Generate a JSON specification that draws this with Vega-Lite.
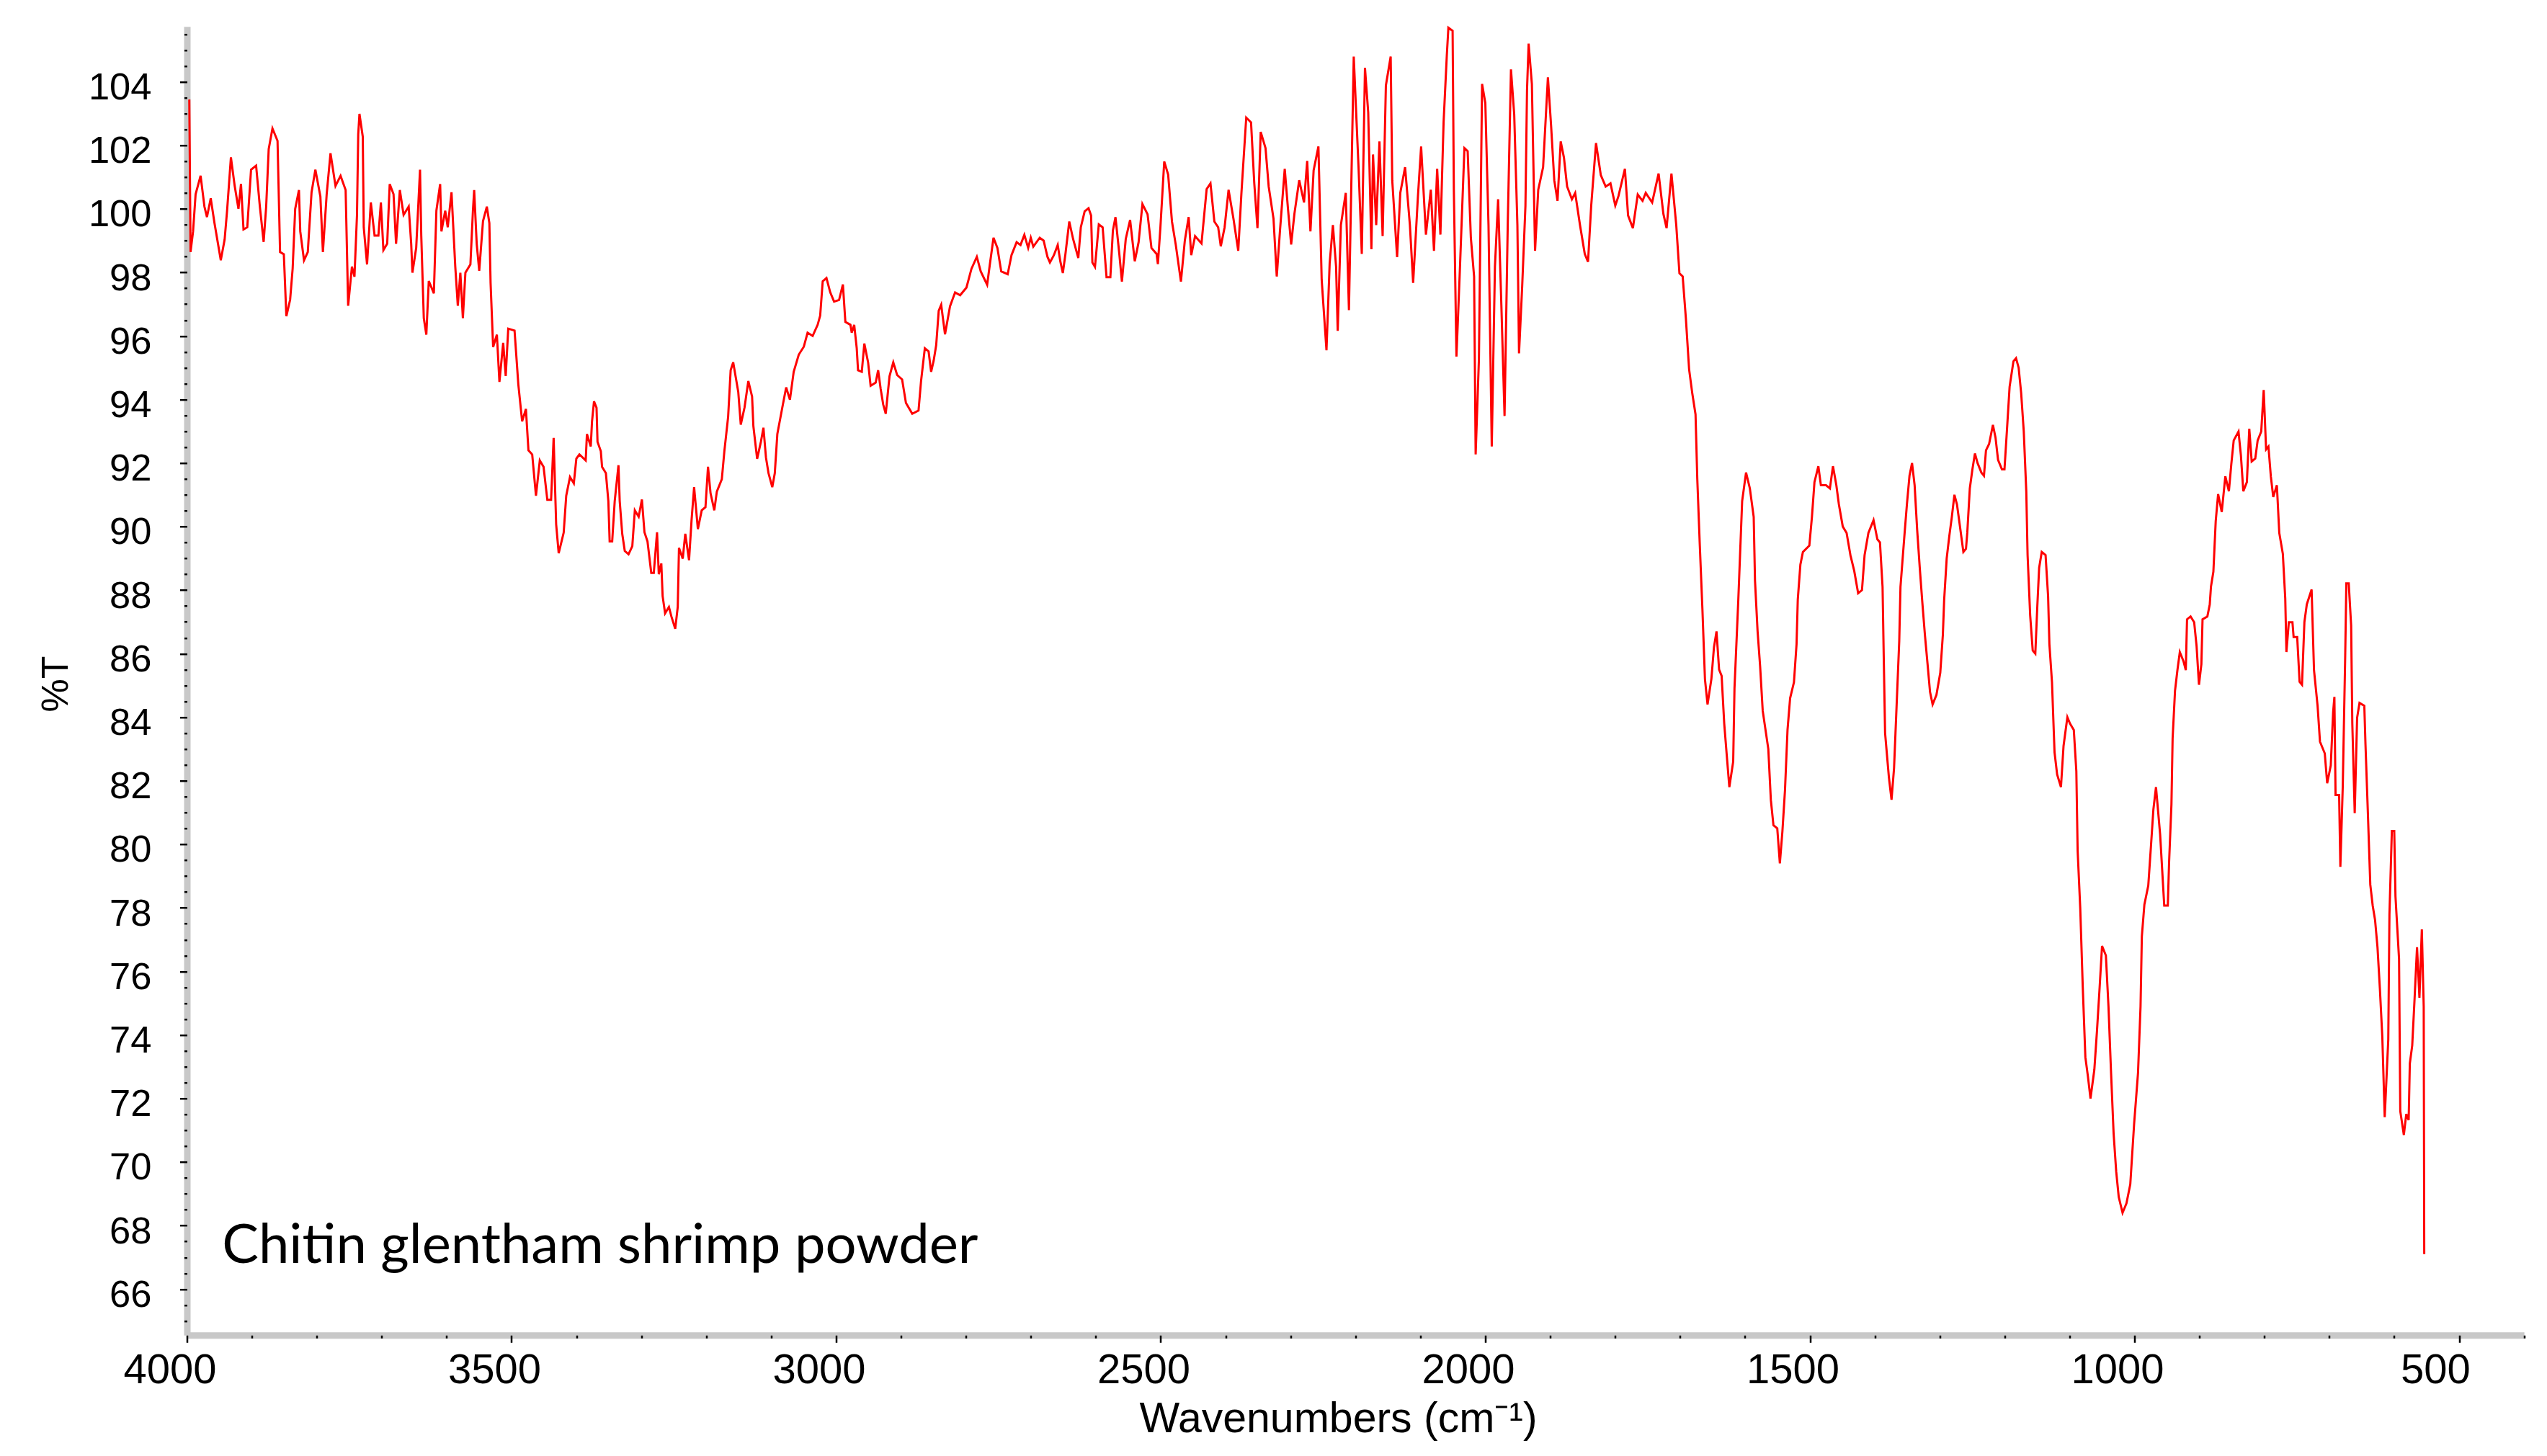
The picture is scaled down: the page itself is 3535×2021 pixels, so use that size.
{
  "$schema": "https://vega.github.io/schema/vega-lite/v6.json",
  "autosize": {"type": "none"},
  "padding": {"left": 259.5, "top": 36.7, "right": 31.9, "bottom": 167.7},
  "width": 3243.6,
  "height": 1816.6,
  "background": "white",
  "config": {"view": {"stroke": null}},
  "datasets": {
    "spectrum": [
      {"wn":3996.4,"T":103.44},{"wn":3994.5,"T":98.64},{"wn":3990.6,"T":99.29},{"wn":3986.7,"T":100.46},{"wn":3979.0,"T":101.04},{"wn":3973.1,"T":100.07},{"wn":3969.2,"T":99.74},{"wn":3963.4,"T":100.33},{"wn":3957.6,"T":99.55},{"wn":3947.9,"T":98.38},{"wn":3942.0,"T":99.03},{"wn":3938.2,"T":99.94},{"wn":3932.3,"T":101.62},{"wn":3926.5,"T":100.72},{"wn":3920.7,"T":100.00},{"wn":3916.8,"T":100.78},{"wn":3912.9,"T":99.35},{"wn":3907.1,"T":99.42},{"wn":3901.3,"T":101.23},{"wn":3893.5,"T":101.36},{"wn":3887.7,"T":100.07},{"wn":3881.9,"T":98.96},{"wn":3878.0,"T":100.07},{"wn":3874.1,"T":101.88},{"wn":3868.3,"T":102.53},{"wn":3860.5,"T":102.14},{"wn":3856.6,"T":98.64},{"wn":3850.8,"T":98.57},{"wn":3846.9,"T":96.62},{"wn":3841.1,"T":97.14},{"wn":3837.2,"T":98.12},{"wn":3833.3,"T":100.00},{"wn":3827.5,"T":100.59},{"wn":3825.5,"T":99.29},{"wn":3819.7,"T":98.38},{"wn":3813.9,"T":98.64},{"wn":3808.1,"T":100.52},{"wn":3802.2,"T":101.23},{"wn":3794.5,"T":100.39},{"wn":3790.6,"T":98.64},{"wn":3784.8,"T":100.46},{"wn":3778.9,"T":101.75},{"wn":3771.2,"T":100.72},{"wn":3763.4,"T":101.04},{"wn":3755.6,"T":100.59},{"wn":3751.7,"T":96.95},{"wn":3745.9,"T":98.18},{"wn":3742.0,"T":97.86},{"wn":3738.1,"T":99.81},{"wn":3736.2,"T":102.34},{"wn":3734.3,"T":102.99},{"wn":3729.2,"T":102.27},{"wn":3727.7,"T":99.42},{"wn":3722.6,"T":98.25},{"wn":3716.8,"T":100.20},{"wn":3711.0,"T":99.16},{"wn":3705.1,"T":99.16},{"wn":3701.3,"T":100.20},{"wn":3697.4,"T":98.70},{"wn":3691.6,"T":98.90},{"wn":3687.7,"T":100.78},{"wn":3681.8,"T":100.46},{"wn":3677.9,"T":98.90},{"wn":3672.1,"T":100.59},{"wn":3666.3,"T":99.81},{"wn":3658.5,"T":100.07},{"wn":3654.6,"T":98.90},{"wn":3652.7,"T":97.99},{"wn":3646.9,"T":98.77},{"wn":3641.0,"T":101.23},{"wn":3639.1,"T":99.16},{"wn":3635.2,"T":96.56},{"wn":3631.3,"T":96.04},{"wn":3627.5,"T":97.73},{"wn":3619.7,"T":97.34},{"wn":3615.8,"T":99.94},{"wn":3610.0,"T":100.78},{"wn":3608.0,"T":99.29},{"wn":3602.2,"T":99.94},{"wn":3598.3,"T":99.42},{"wn":3592.5,"T":100.52},{"wn":3586.7,"T":98.18},{"wn":3582.8,"T":96.95},{"wn":3578.9,"T":97.99},{"wn":3575.0,"T":96.56},{"wn":3571.1,"T":97.99},{"wn":3563.4,"T":98.25},{"wn":3559.5,"T":99.94},{"wn":3557.6,"T":100.59},{"wn":3553.7,"T":98.90},{"wn":3549.8,"T":98.05},{"wn":3544.0,"T":99.61},{"wn":3538.1,"T":100.07},{"wn":3534.2,"T":99.55},{"wn":3532.3,"T":97.66},{"wn":3528.4,"T":95.65},{"wn":3522.6,"T":96.04},{"wn":3518.7,"T":94.55},{"wn":3512.9,"T":95.78},{"wn":3509.0,"T":94.74},{"wn":3505.1,"T":96.23},{"wn":3495.4,"T":96.17},{"wn":3489.6,"T":94.48},{"wn":3483.7,"T":93.31},{"wn":3477.9,"T":93.70},{"wn":3474.0,"T":92.40},{"wn":3468.2,"T":92.27},{"wn":3462.4,"T":90.97},{"wn":3456.5,"T":92.08},{"wn":3450.7,"T":91.88},{"wn":3444.9,"T":90.84},{"wn":3439.1,"T":90.84},{"wn":3435.2,"T":92.79},{"wn":3431.3,"T":90.07},{"wn":3427.4,"T":89.16},{"wn":3419.7,"T":89.81},{"wn":3415.8,"T":90.97},{"wn":3410.0,"T":91.56},{"wn":3404.1,"T":91.36},{"wn":3400.2,"T":92.14},
      {"wn":3395.5,"T":92.27},{"wn":3385.8,"T":92.08},{"wn":3383.9,"T":92.91},{"wn":3378.0,"T":92.52},{"wn":3376.1,"T":93.30},{"wn":3373.0,"T":93.94},{"wn":3369.1,"T":93.74},{"wn":3367.6,"T":92.67},{"wn":3362.5,"T":92.37},{"wn":3360.6,"T":91.88},{"wn":3354.7,"T":91.68},{"wn":3350.9,"T":90.80},{"wn":3348.9,"T":89.53},{"wn":3345.0,"T":89.53},{"wn":3341.1,"T":90.80},{"wn":3335.3,"T":91.93},{"wn":3333.4,"T":90.80},{"wn":3329.5,"T":89.77},{"wn":3325.6,"T":89.23},{"wn":3319.8,"T":89.13},{"wn":3314.0,"T":89.38},{"wn":3310.1,"T":90.51},{"wn":3304.2,"T":90.31},{"wn":3299.2,"T":90.85},{"wn":3295.3,"T":89.82},{"wn":3290.6,"T":89.53},{"wn":3284.8,"T":88.54},{"wn":3280.9,"T":88.54},{"wn":3275.9,"T":89.82},{"wn":3273.2,"T":88.50},{"wn":3269.3,"T":88.84},{"wn":3267.3,"T":87.81},{"wn":3263.5,"T":87.27},{"wn":3257.6,"T":87.47},{"wn":3253.8,"T":87.17},{"wn":3247.9,"T":86.78},{"wn":3244.0,"T":87.47},{"wn":3242.1,"T":89.33},{"wn":3236.3,"T":88.99},{"wn":3232.4,"T":89.77},{"wn":3226.6,"T":88.94},{"wn":3222.7,"T":90.21},{"wn":3218.8,"T":91.24},{"wn":3213.0,"T":89.92},{"wn":3207.1,"T":90.51},{"wn":3201.3,"T":90.61},{"wn":3197.4,"T":91.88},{"wn":3193.5,"T":91.05},{"wn":3187.7,"T":90.51},{"wn":3183.8,"T":91.10},{"wn":3176.1,"T":91.49},{"wn":3172.2,"T":92.37},{"wn":3166.4,"T":93.45},{"wn":3162.5,"T":94.92},{"wn":3158.6,"T":95.17},{"wn":3150.8,"T":94.24},{"wn":3146.9,"T":93.21},{"wn":3141.1,"T":93.75},{"wn":3135.3,"T":94.58},{"wn":3129.5,"T":94.09},{"wn":3127.5,"T":93.16},{"wn":3121.7,"T":92.13},{"wn":3115.9,"T":92.67},{"wn":3112.0,"T":93.11},{"wn":3108.1,"T":92.17},{"wn":3104.2,"T":91.68},{"wn":3098.4,"T":91.24},{"wn":3094.5,"T":91.68},{"wn":3090.6,"T":92.91},{"wn":3082.9,"T":93.75},{"wn":3077.0,"T":94.38},{"wn":3071.2,"T":93.99},{"wn":3065.4,"T":94.87},{"wn":3057.6,"T":95.41},{"wn":3049.8,"T":95.66},{"wn":3044.0,"T":96.10},{"wn":3036.2,"T":96.00},{"wn":3028.5,"T":96.35},{"wn":3024.6,"T":96.64},{"wn":3020.7,"T":97.72},{"wn":3014.9,"T":97.82},{"wn":3009.1,"T":97.37},{"wn":3003.2,"T":97.08},{"wn":2995.5,"T":97.13},{"wn":2989.6,"T":97.62},{"wn":2985.8,"T":96.44},{"wn":2978.0,"T":96.35},{"wn":2976.0,"T":96.10},{"wn":2972.2,"T":96.35},{"wn":2968.3,"T":95.61},{"wn":2966.3,"T":94.92},{"wn":2960.5,"T":94.87},{"wn":2956.6,"T":95.76},{"wn":2950.8,"T":95.17},{"wn":2946.9,"T":94.43},{"wn":2939.1,"T":94.53},{"wn":2935.3,"T":94.92},{"wn":2931.4,"T":94.33},{"wn":2927.5,"T":93.84},{"wn":2923.6,"T":93.55},{"wn":2917.8,"T":94.73},{"wn":2912.0,"T":95.17},{"wn":2906.1,"T":94.77},{"wn":2898.4,"T":94.63},{"wn":2892.5,"T":93.89},{"wn":2882.8,"T":93.55},{"wn":2873.1,"T":93.65},{"wn":2869.2,"T":94.58},{"wn":2863.4,"T":95.61},{"wn":2857.6,"T":95.51},{"wn":2853.7,"T":94.87},{"wn":2849.8,"T":95.22},{"wn":2845.9,"T":95.71},{"wn":2842.0,"T":96.79},{"wn":2838.2,"T":96.98},{"wn":2832.3,"T":96.05},{"wn":2824.6,"T":96.93},{"wn":2816.8,"T":97.37},{"wn":2809.0,"T":97.28},{"wn":2799.3,"T":97.52},{"wn":2791.6,"T":98.11},
      {"wn":2783.3,"T":98.49},{"wn":2777.3,"T":98.03},{"wn":2767.4,"T":97.61},{"wn":2763.5,"T":98.21},{"wn":2757.6,"T":99.09},{"wn":2751.6,"T":98.77},{"wn":2745.7,"T":98.03},{"wn":2735.8,"T":97.94},{"wn":2729.9,"T":98.54},{"wn":2722.0,"T":98.95},{"wn":2716.0,"T":98.86},{"wn":2710.1,"T":99.18},{"wn":2704.2,"T":98.77},{"wn":2700.2,"T":99.09},{"wn":2696.3,"T":98.81},{"wn":2686.4,"T":99.09},{"wn":2680.4,"T":99.00},{"wn":2674.5,"T":98.49},{"wn":2670.7,"T":98.31},{"wn":2664.6,"T":98.54},{"wn":2658.7,"T":98.86},{"wn":2654.7,"T":98.35},{"wn":2650.8,"T":97.98},{"wn":2646.8,"T":98.58},{"wn":2640.9,"T":99.60},{"wn":2635.0,"T":99.05},{"wn":2627.0,"T":98.45},{"wn":2623.1,"T":99.42},{"wn":2617.2,"T":99.92},{"wn":2611.2,"T":100.02},{"wn":2607.3,"T":99.79},{"wn":2605.3,"T":98.31},{"wn":2601.3,"T":98.17},{"wn":2595.4,"T":99.51},{"wn":2589.5,"T":99.42},{"wn":2583.5,"T":97.85},{"wn":2577.6,"T":97.85},{"wn":2573.7,"T":99.32},{"wn":2569.7,"T":99.74},{"wn":2563.8,"T":98.58},{"wn":2559.8,"T":97.71},{"wn":2553.9,"T":99.05},{"wn":2547.2,"T":99.65},{"wn":2540.0,"T":98.35},{"wn":2534.1,"T":98.95},{"wn":2528.2,"T":100.15},{"wn":2520.3,"T":99.83},{"wn":2514.3,"T":98.77},{"wn":2506.4,"T":98.58},{"wn":2504.4,"T":98.26},{"wn":2500.5,"T":99.42},{"wn":2494.6,"T":101.49},{"wn":2488.6,"T":101.08},{"wn":2482.7,"T":99.60},{"wn":2476.8,"T":98.86},{"wn":2468.9,"T":97.71},{"wn":2462.9,"T":99.00},{"wn":2457.0,"T":99.74},{"wn":2453.0,"T":98.54},{"wn":2447.1,"T":99.14},{"wn":2437.2,"T":98.91},{"wn":2429.3,"T":100.62},{"wn":2423.4,"T":100.80},{"wn":2417.4,"T":99.60},{"wn":2411.5,"T":99.42},{"wn":2407.5,"T":98.82},{"wn":2401.6,"T":99.42},
      {"wn":2395.5,"T":100.60},{"wn":2388.0,"T":99.69},{"wn":2380.6,"T":98.68},{"wn":2375.7,"T":100.50},{"wn":2368.3,"T":102.87},{"wn":2360.9,"T":102.72},{"wn":2355.9,"T":100.80},{"wn":2351.0,"T":99.39},{"wn":2346.0,"T":102.42},{"wn":2338.6,"T":101.91},{"wn":2333.7,"T":100.70},{"wn":2326.3,"T":99.69},{"wn":2321.3,"T":97.87},{"wn":2316.4,"T":99.29},{"wn":2309.0,"T":101.26},{"wn":2304.0,"T":100.00},{"wn":2299.1,"T":98.88},{"wn":2294.1,"T":99.84},{"wn":2286.7,"T":100.90},{"wn":2279.3,"T":100.20},{"wn":2274.4,"T":101.51},{"wn":2269.4,"T":99.29},{"wn":2264.5,"T":101.21},{"wn":2257.1,"T":101.96},{"wn":2252.1,"T":97.77},{"wn":2244.7,"T":95.55},{"wn":2239.8,"T":98.28},{"wn":2234.8,"T":99.49},{"wn":2229.9,"T":98.18},{"wn":2227.4,"T":96.16},{"wn":2222.5,"T":99.49},{"wn":2215.0,"T":100.50},{"wn":2210.1,"T":96.81},{"wn":2202.7,"T":104.79},{"wn":2195.3,"T":101.31},{"wn":2190.3,"T":98.58},{"wn":2185.4,"T":104.44},{"wn":2180.4,"T":103.03},{"wn":2175.5,"T":98.73},{"wn":2173.0,"T":101.71},{"wn":2168.1,"T":99.49},{"wn":2163.1,"T":102.12},{"wn":2158.2,"T":99.14},{"wn":2153.2,"T":103.88},{"wn":2145.8,"T":104.79},{"wn":2143.4,"T":100.90},{"wn":2135.9,"T":98.48},{"wn":2131.0,"T":100.50},{"wn":2123.6,"T":101.31},{"wn":2116.2,"T":99.49},{"wn":2111.2,"T":97.67},{"wn":2103.8,"T":100.40},{"wn":2098.9,"T":101.96},{"wn":2091.5,"T":99.19},{"wn":2084.0,"T":100.60},{"wn":2079.1,"T":98.68},{"wn":2074.2,"T":101.26},{"wn":2069.2,"T":99.19},{"wn":2064.3,"T":102.72},{"wn":2059.3,"T":104.84},{"wn":2056.9,"T":105.70},{"wn":2050.4,"T":105.60},{"wn":2048.5,"T":100.60},{"wn":2044.5,"T":95.35},{"wn":2039.6,"T":97.87},{"wn":2032.2,"T":101.91},{"wn":2027.2,"T":101.81},{"wn":2022.3,"T":99.09},{"wn":2017.3,"T":97.87},{"wn":2014.9,"T":92.27},{"wn":2009.9,"T":95.25},{"wn":2005.0,"T":103.93},{"wn":2000.0,"T":103.33},{"wn":1995.1,"T":99.49},{"wn":1990.1,"T":92.52},{"wn":1985.2,"T":98.18},{"wn":1980.3,"T":100.30},{"wn":1975.3,"T":96.97},{"wn":1970.4,"T":93.48},{"wn":1965.4,"T":99.59},{"wn":1960.5,"T":104.39},{"wn":1955.5,"T":102.97},{"wn":1950.6,"T":99.49},{"wn":1948.1,"T":95.45},{"wn":1943.2,"T":97.57},{"wn":1938.2,"T":100.10},{"wn":1935.8,"T":103.73},{"wn":1933.3,"T":105.20},{"wn":1928.3,"T":103.93},{"wn":1923.4,"T":98.68},{"wn":1918.5,"T":100.60},{"wn":1911.0,"T":101.31},{"wn":1903.6,"T":104.14},{"wn":1898.7,"T":102.62},{"wn":1893.8,"T":100.90},{"wn":1888.8,"T":100.25},{"wn":1883.9,"T":102.12},{"wn":1878.9,"T":101.61},{"wn":1874.0,"T":100.70},{"wn":1866.6,"T":100.30},{"wn":1861.6,"T":100.50},{"wn":1854.2,"T":99.49},{"wn":1846.8,"T":98.58},{"wn":1841.8,"T":98.33},{"wn":1836.9,"T":100.10},{"wn":1829.5,"T":102.07},{"wn":1822.1,"T":101.06},{"wn":1814.6,"T":100.70},{"wn":1807.2,"T":100.80},{"wn":1799.8,"T":100.10},{"wn":1794.9,"T":100.40},{"wn":1785.0,"T":101.26},{"wn":1780.1,"T":99.79},{"wn":1772.7,"T":99.39},{"wn":1765.2,"T":100.45},{"wn":1757.8,"T":100.25},{"wn":1752.9,"T":100.50},{"wn":1743.0,"T":100.20},{"wn":1733.1,"T":101.11},{"wn":1725.7,"T":99.84},{"wn":1720.8,"T":99.39},{"wn":1713.3,"T":101.11},{"wn":1705.9,"T":99.49},{"wn":1701.0,"T":97.97},{"wn":1696.0,"T":97.87},{"wn":1691.1,"T":96.56},{"wn":1686.1,"T":94.95},{"wn":1681.2,"T":94.19},{"wn":1676.2,"T":93.53},
      {"wn":1673.5,"T":91.5},{"wn":1669.6,"T":89.4},{"wn":1665.6,"T":87.4},{"wn":1661.7,"T":85.2},{"wn":1657.7,"T":84.4},{"wn":1651.8,"T":85.2},{"wn":1647.8,"T":86.2},{"wn":1643.9,"T":86.7},{"wn":1639.9,"T":85.5},{"wn":1636.0,"T":85.3},{"wn":1632.0,"T":83.8},{"wn":1628.1,"T":82.8},{"wn":1624.1,"T":81.8},{"wn":1618.2,"T":82.6},{"wn":1616.2,"T":84.9},{"wn":1610.3,"T":87.7},{"wn":1606.3,"T":89.8},{"wn":1604.4,"T":90.8},{"wn":1598.4,"T":91.7},{"wn":1592.5,"T":91.2},{"wn":1586.6,"T":90.3},{"wn":1584.6,"T":88.3},{"wn":1580.6,"T":86.7},{"wn":1576.7,"T":85.6},{"wn":1572.7,"T":84.2},
      {"wn":1564.1,"T":83.0},{"wn":1560.2,"T":81.4},{"wn":1556.2,"T":80.6},{"wn":1550.3,"T":80.5},{"wn":1546.3,"T":79.4},{"wn":1542.4,"T":80.4},{"wn":1538.4,"T":81.7},{"wn":1534.5,"T":83.6},{"wn":1530.5,"T":84.6},{"wn":1524.6,"T":85.1},{"wn":1520.6,"T":86.3},{"wn":1518.7,"T":87.7},{"wn":1514.7,"T":88.8},{"wn":1510.8,"T":89.2},{"wn":1500.9,"T":89.4},{"wn":1496.9,"T":90.3},{"wn":1493.0,"T":91.4},{"wn":1487.0,"T":91.9},{"wn":1483.1,"T":91.3},{"wn":1475.2,"T":91.3},{"wn":1469.2,"T":91.2},{"wn":1464.5,"T":91.9},{"wn":1459.3,"T":91.3},{"wn":1455.4,"T":90.7},{"wn":1449.4,"T":90.0},{"wn":1443.5,"T":89.8},{"wn":1437.6,"T":89.1},{"wn":1431.7,"T":88.6},{"wn":1425.7,"T":87.9},{"wn":1419.8,"T":88.0},{"wn":1415.8,"T":89.1},{"wn":1409.9,"T":89.8},{"wn":1402.0,"T":90.2},{"wn":1396.1,"T":89.6},{"wn":1392.1,"T":89.5},{"wn":1388.1,"T":88.1},{"wn":1386.2,"T":85.8},{"wn":1384.2,"T":83.5},{"wn":1378.3,"T":82.1},{"wn":1374.3,"T":81.4},{"wn":1370.4,"T":82.4},{"wn":1366.4,"T":84.4},{"wn":1362.4,"T":86.4},{"wn":1360.5,"T":88.1},{"wn":1354.5,"T":89.7},{"wn":1350.6,"T":90.7},{"wn":1346.6,"T":91.6},{"wn":1342.7,"T":92.0},{"wn":1338.7,"T":91.3},{"wn":1334.8,"T":89.9},{"wn":1330.8,"T":88.7},{"wn":1326.8,"T":87.6},{"wn":1322.9,"T":86.6},{"wn":1318.9,"T":85.7},{"wn":1315.0,"T":84.8},{"wn":1311.0,"T":84.4},{"wn":1305.1,"T":84.7},{"wn":1299.2,"T":85.4},{"wn":1295.2,"T":86.6},{"wn":1293.2,"T":87.7},{"wn":1289.3,"T":89.0},{"wn":1285.3,"T":89.7},{"wn":1281.4,"T":90.3},{"wn":1277.4,"T":91.0},{"wn":1273.5,"T":90.7},{"wn":1269.5,"T":90.1},{"wn":1263.6,"T":89.2},{"wn":1259.6,"T":89.3},{"wn":1257.6,"T":89.8},{"wn":1253.7,"T":91.2},{"wn":1249.7,"T":91.8},{"wn":1245.8,"T":92.3},{"wn":1241.8,"T":92.0},{"wn":1235.9,"T":91.7},{"wn":1231.9,"T":91.6},{"wn":1228.8,"T":92.4},{"wn":1224.0,"T":92.6},{"wn":1218.1,"T":93.2},{"wn":1214.1,"T":92.8},{"wn":1210.2,"T":92.1},{"wn":1204.2,"T":91.8},{"wn":1200.3,"T":91.8},{"wn":1196.3,"T":93.1},{"wn":1192.4,"T":94.4},{"wn":1186.5,"T":95.2},{"wn":1182.5,"T":95.3},{"wn":1178.5,"T":95.0},{"wn":1174.6,"T":94.2},{"wn":1170.6,"T":93.0},{"wn":1166.7,"T":91.1},{"wn":1164.7,"T":89.1},{"wn":1160.7,"T":87.2},{"wn":1156.8,"T":86.1},{"wn":1152.8,"T":86.0},{"wn":1149.7,"T":87.5},{"wn":1146.9,"T":88.7},{"wn":1142.9,"T":89.2},{"wn":1137.0,"T":89.1},{"wn":1133.1,"T":87.8},{"wn":1131.1,"T":86.3},{"wn":1127.1,"T":85.1},{"wn":1123.2,"T":82.9},{"wn":1119.2,"T":82.2},{"wn":1113.3,"T":81.8},{"wn":1109.3,"T":83.1},{"wn":1103.4,"T":84.0},{"wn":1099.4,"T":83.8},{"wn":1093.5,"T":83.6},{"wn":1089.6,"T":82.3},{"wn":1087.6,"T":79.8},{"wn":1083.6,"T":78.0},{"wn":1079.7,"T":75.5},{"wn":1075.7,"T":73.3},{"wn":1071.8,"T":72.7},{"wn":1067.8,"T":72.0},{"wn":1061.9,"T":72.9},{"wn":1057.9,"T":74.1},{"wn":1054.0,"T":75.4},{"wn":1050.0,"T":76.8},{"wn":1044.1,"T":76.5},{"wn":1040.1,"T":74.9},{"wn":1036.1,"T":72.8},{"wn":1032.2,"T":70.9},{"wn":1028.2,"T":69.7},{"wn":1024.3,"T":68.9},{"wn":1018.4,"T":68.4},{"wn":1012.4,"T":68.7},{"wn":1006.5,"T":69.3},{"wn":1000.6,"T":71.2},{"wn":994.6,"T":72.8},{"wn":990.7,"T":74.9},{"wn":988.7,"T":77.1},{"wn":984.8,"T":78.1},{"wn":978.8,"T":78.7},{"wn":974.8,"T":79.9},{"wn":970.9,"T":81.1},{"wn":966.9,"T":81.8},{"wn":960.5,"T":80.3},
      {"wn":954.2,"T":78.07},{"wn":948.7,"T":78.07},{"wn":946.8,"T":79.39},{"wn":943.1,"T":81.26},{"wn":941.3,"T":83.33},{"wn":937.6,"T":84.83},{"wn":933.9,"T":85.48},{"wn":930.2,"T":86.05},{"wn":924.7,"T":85.77},{"wn":921.0,"T":85.48},{"wn":919.1,"T":87.08},{"wn":913.6,"T":87.17},{"wn":908.1,"T":86.99},{"wn":904.4,"T":86.24},{"wn":900.7,"T":85.02},{"wn":897.0,"T":85.67},{"wn":895.2,"T":87.08},{"wn":887.8,"T":87.17},{"wn":884.1,"T":87.55},{"wn":882.2,"T":88.11},{"wn":878.5,"T":88.58},{"wn":874.9,"T":90.17},{"wn":871.2,"T":91.02},{"wn":865.6,"T":90.46},{"wn":860.1,"T":91.58},{"wn":854.6,"T":91.11},{"wn":850.9,"T":91.96},{"wn":847.2,"T":92.71},{"wn":839.8,"T":92.99},{"wn":836.1,"T":92.24},{"wn":832.4,"T":91.11},{"wn":826.9,"T":91.40},{"wn":823.2,"T":93.08},{"wn":819.5,"T":92.05},{"wn":814.0,"T":92.14},{"wn":810.3,"T":92.71},{"wn":804.8,"T":92.99},{"wn":801.0,"T":94.30},{"wn":797.3,"T":92.43},{"wn":793.7,"T":92.52},{"wn":790.0,"T":91.58},{"wn":786.3,"T":90.93},{"wn":780.7,"T":91.30},{"wn":777.0,"T":89.80},{"wn":771.5,"T":89.14},{"wn":767.8,"T":87.74},{"wn":766.0,"T":86.05},{"wn":762.3,"T":86.99},{"wn":756.7,"T":86.99},{"wn":754.9,"T":86.52},{"wn":749.4,"T":86.52},{"wn":745.7,"T":85.11},{"wn":742.0,"T":85.02},{"wn":738.3,"T":86.99},{"wn":734.6,"T":87.55},{"wn":727.2,"T":88.02},{"wn":723.5,"T":85.48},{"wn":718.0,"T":84.36},{"wn":714.3,"T":83.23},{"wn":706.9,"T":82.86},{"wn":703.2,"T":81.92},{"wn":697.7,"T":82.48},{"wn":694.0,"T":84.17},{"wn":692.1,"T":84.64},{"wn":690.3,"T":81.55},{"wn":684.8,"T":81.55},{"wn":682.9,"T":79.29},{"wn":679.2,"T":81.83},{"wn":675.5,"T":85.86},{"wn":673.7,"T":88.21},{"wn":670.0,"T":88.21},{"wn":666.3,"T":86.89},{"wn":664.5,"T":83.80},{"wn":660.8,"T":80.98},{"wn":657.1,"T":83.98},{"wn":653.4,"T":84.45},{"wn":646.0,"T":84.36},{"wn":644.2,"T":83.14},{"wn":640.5,"T":80.98},{"wn":636.8,"T":78.73},{"wn":633.1,"T":78.07},{"wn":629.4,"T":77.61},{"wn":625.7,"T":76.76},{"wn":622.0,"T":75.45},{"wn":618.3,"T":73.95},{"wn":614.6,"T":71.41},{"wn":609.1,"T":73.85},{"wn":607.3,"T":77.79},{"wn":603.6,"T":80.42},{"wn":599.9,"T":80.42},{"wn":598.0,"T":78.36},{"wn":592.5,"T":76.39},{"wn":590.6,"T":71.60},{"wn":585.1,"T":70.85},{"wn":581.4,"T":71.51},{"wn":577.7,"T":71.32},{"wn":575.9,"T":73.10},{"wn":572.2,"T":73.67},{"wn":568.5,"T":75.17},{"wn":564.8,"T":76.76},{"wn":561.1,"T":75.17},{"wn":557.4,"T":77.32},{"wn":554.5,"T":74.89},{"wn":553.7,"T":67.10}
    ],
    "note": [{"wn": 3946, "T": 66.82, "label": "Chitin glentham shrimp powder"}]
  },
  "layer": [
    {
      "data": {"name": "spectrum"},
      "mark": {"type": "line", "color": "#ff0000", "strokeWidth": 3, "interpolate": "linear"},
      "encoding": {
        "x": {"field": "wn", "type": "quantitative",
              "scale": {"domain": [400, 4000], "reverse": true, "nice": false, "zero": false},
              "axis": {"orient": "bottom", "domain": true, "domainColor": "#c8c8c8", "domainWidth": 9, "grid": false, "title": null, "zindex": 0, "ticks": false, "labels": false}},
        "y": {"field": "T", "type": "quantitative",
              "scale": {"domain": [64.55, 105.74], "nice": false, "zero": false},
              "axis": {"orient": "left", "domain": true, "domainColor": "#c8c8c8", "domainWidth": 9, "grid": false, "title": null, "zindex": 0, "ticks": false, "labels": false}}
      }
    },
    {
      "data": {"name": "note"},
      "mark": {"type": "text", "font": "Lato", "fontSize": 76, "align": "left", "baseline": "alphabetic", "color": "#000000"},
      "encoding": {
        "x": {"field": "wn", "type": "quantitative",
              "scale": {"domain": [400, 4000], "reverse": true, "nice": false, "zero": false},
              "axis": {
                "orient": "bottom", "domain": false, "grid": false, "zindex": 1, "labels": false, "title": null,
                "values": [4000,3900,3800,3700,3600,3500,3400,3300,3200,3100,3000,2900,2800,2700,2600,2500,2400,2300,2200,2100,2000,1900,1800,1700,1600,1500,1400,1300,1200,1100,1000,900,800,700,600,500,400],
                "ticks": true, "tickColor": "#000000",
                "tickSize": {"condition": {"test": "datum.value % 500 === 0", "value": 10}, "value": 4},
                "tickWidth": 2.5
              }},
        "y": {"field": "T", "type": "quantitative",
              "scale": {"domain": [64.55, 105.74], "nice": false, "zero": false},
              "axis": {
                "orient": "left", "domain": false, "grid": false, "zindex": 1, "labels": false, "title": null,
                "values": [64.5,65,65.5,66,66.5,67,67.5,68,68.5,69,69.5,70,70.5,71,71.5,72,72.5,73,73.5,74,74.5,75,75.5,76,76.5,77,77.5,78,78.5,79,79.5,80,80.5,81,81.5,82,82.5,83,83.5,84,84.5,85,85.5,86,86.5,87,87.5,88,88.5,89,89.5,90,90.5,91,91.5,92,92.5,93,93.5,94,94.5,95,95.5,96,96.5,97,97.5,98,98.5,99,99.5,100,100.5,101,101.5,102,102.5,103,103.5,104,104.5,105,105.5],
                "ticks": true, "tickColor": "#000000",
                "tickSize": {"condition": {"test": "datum.value % 2 === 0", "value": 10}, "value": 4},
                "tickWidth": 2.5
              }},
        "text": {"field": "label"}
      }
    },
    {
      "data": {"name": "note"},
      "mark": {"type": "point", "opacity": 0, "size": 1},
      "encoding": {
        "x": {"field": "wn", "type": "quantitative",
              "scale": {"domain": [400, 4000], "reverse": true, "nice": false, "zero": false},
              "axis": {
                "orient": "bottom", "domain": false, "grid": false, "zindex": 1,
                "values": [4000,3500,3000,2500,2000,1500,1000,500],
                "format": "d",
                "ticks": true, "tickOpacity": 0, "tickSize": 20.4, "tickWidth": 1,
                "labelFont": "Liberation Sans", "labelFontSize": 58, "labelColor": "#000000",
                "labelAlign": "center", "labelBaseline": "top", "labelPadding": 0,
                "labelOffset": {"condition": {"test": "datum.value === 500", "value": -33}, "value": -24},
                "labelFlush": false, "labelOverlap": false, "labelBound": false,
                "title": "Wavenumbers (cm⁻¹)", "titleFont": "Liberation Sans", "titleFontSize": 59, "titleFontWeight": "normal", "titleColor": "#000000",
                "titleX": 1597.5, "titleY": 134.7, "titleAlign": "center", "titleBaseline": "alphabetic", "titleAngle": 0
              }},
        "y": {"field": "T", "type": "quantitative",
              "scale": {"domain": [64.55, 105.74], "nice": false, "zero": false},
              "axis": {
                "orient": "left", "domain": false, "grid": false, "zindex": 1,
                "values": [66,68,70,72,74,76,78,80,82,84,86,88,90,92,94,96,98,100,102,104],
                "format": "d",
                "ticks": true, "tickOpacity": 0, "tickSize": 49.5, "tickWidth": 1,
                "labelFont": "Liberation Sans", "labelFontSize": 52.5, "labelColor": "#000000",
                "labelAlign": "right", "labelBaseline": "middle", "labelPadding": 0, "labelOffset": 8,
                "labelOverlap": false, "labelBound": false, "labelFlush": false,
                "title": "%T", "titleFont": "Liberation Sans", "titleFontSize": 52, "titleFontWeight": "normal", "titleColor": "#000000",
                "titleX": -182.5, "titleY": 912.3, "titleAngle": -90, "titleAlign": "center", "titleBaseline": "middle"
              }}
      }
    }
  ],
  "resolve": {"axis": {"x": "independent", "y": "independent"}}
}
